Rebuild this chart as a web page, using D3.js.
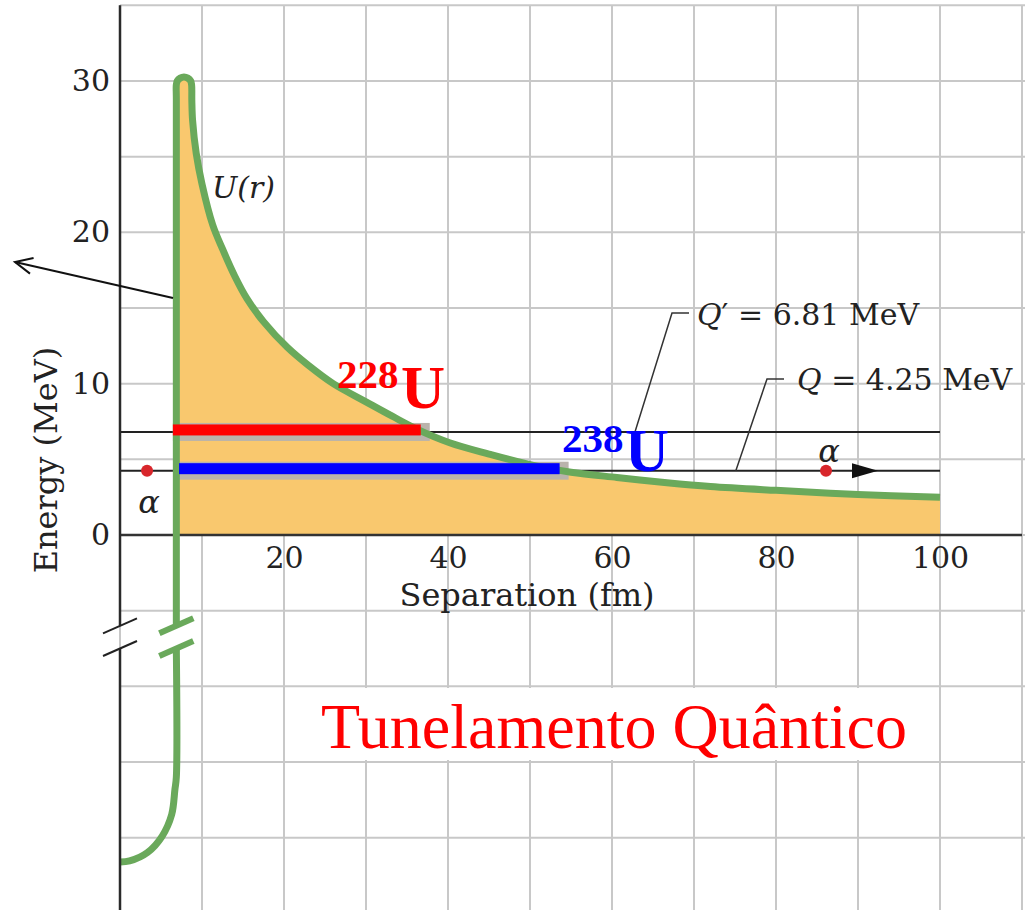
<!DOCTYPE html>
<html>
<head>
<meta charset="utf-8">
<script src="https://cdn.jsdelivr.net/npm/d3@7"></script>
<style>
  html, body { margin: 0; padding: 0; background: #ffffff; }
  svg { display: block; }
</style>
</head>
<body>
<svg id="chart" width="1025" height="910"></svg>
<script>
// ---- data -------------------------------------------------------------
// Upper branch of the potential U(r): wall, rounded peak, Coulomb tail (r in fm, U in MeV)
const curveR = [6.87, 6.87, 6.87, 6.99, 7.34, 7.80, 8.27, 8.61, 8.73, 8.76, 8.85, 9.3, 10.0, 11.3, 12.5, 14.0, 15.5, 17.5, 20.4, 23.0, 26.0, 30.0, 33.2, 36.2, 40.2, 45.0, 50.4, 55.0, 60.6, 66.7, 72.0, 80.0, 90.0, 100];
const curveU = [-6.0, 28.8, 29.76, 30.01, 30.19, 30.26, 30.19, 30.01, 29.76, 28.7, 27.4, 25.2, 23.2, 20.5, 18.9, 17.1, 15.6, 14.1, 12.4, 11.2, 10.0, 8.8, 7.85, 7.0, 6.1, 5.35, 4.6, 4.15, 3.8, 3.45, 3.2, 2.95, 2.68, 2.5];
// Lower branch (nuclear well) below the axis break
const wellR = [6.87, 6.87, 6.7, 6.3, 5.13, 3.35, 1.17, 0];
const wellU = [-7.5, -16.0, -16.8, -18.48, -19.91, -20.98, -21.54, -21.61];

// Disintegration energies and the isotopes they belong to
const qNames = ["Q′", "Q"];
const qValues = [6.81, 4.25];
const isotopeMass = ["228", "238"];
const isotopeColors = ["#ff0000", "#0000ff"];
const barStartR = [6.45, 7.2];

// Alpha particle positions on the Q line
const alphaR = [3.3, 86.1];

// Axis ticks and labels
const xTicks = [20, 40, 60, 80, 100];
const yTicks = [0, 10, 20, 30];
const xTitle = "Separation (fm)";
const yTitle = "Energy (MeV)";
const curveLabel = "U(r)";
const title = "Tunelamento Quântico";

// Axis break (MeV) between the barrier and the well
const axisBreak = [-6.0, -7.5];

// ---- scales -----------------------------------------------------------
const x = d3.scaleLinear().domain([0, 100]).range([120, 940]);
const y = d3.scaleLinear().domain([0, 30]).range([535, 81]);

const SERIF = "'DejaVu Serif', serif";
const TIMES = "'Liberation Serif', 'Times New Roman', serif";
const GREEN = "#6aa95b";
const ORANGE = "#f9c86e";
const GRID = "#c8c8c8";
const INK = "#222222";

const svg = d3.select("#chart");

// ---- grid -------------------------------------------------------------
const gridG = svg.append("g").attr("class", "grid");
const gridR = d3.range(0, 111, 10);
const gridU = d3.range(-25, 36, 5);
gridG.selectAll("line.v").data(gridR).join("line")
  .attr("class", "v")
  .attr("x1", d => x(d)).attr("x2", d => x(d))
  .attr("y1", y(35)).attr("y2", 910)
  .attr("stroke", GRID).attr("stroke-width", 2);
gridG.selectAll("line.h").data(gridU).join("line")
  .attr("class", "h")
  .attr("x1", x(0)).attr("x2", 1025)
  .attr("y1", d => y(d)).attr("y2", d => y(d))
  .attr("stroke", GRID).attr("stroke-width", 2);

// ---- Q energy lines ----------------------------------------------------
svg.append("g").selectAll("line").data(qValues).join("line")
  .attr("x1", x(0)).attr("x2", x(100))
  .attr("y1", d => y(d)).attr("y2", d => y(d))
  .attr("stroke", INK).attr("stroke-width", 2);

// ---- barrier fill ------------------------------------------------------
const upper = curveR.map((r, i) => [r, curveU[i]]);
const well = wellR.map((r, i) => [r, wellU[i]]);

svg.append("path")
  .datum(upper)
  .attr("fill", ORANGE)
  .attr("d", d3.area()
    .curve(d3.curveCatmullRom.alpha(0.5))
    .x(d => x(d[0]))
    .y0(y(0))
    .y1(d => y(Math.max(d[1], 0))));

// where a horizontal energy level meets the Coulomb tail (linear between read points)
function crossing(level) {
  for (let i = 10; i < upper.length - 1; i++) {
    const a = upper[i], b = upper[i + 1];
    if (a[1] >= level && b[1] <= level) {
      const t = (a[1] - level) / (a[1] - b[1]);
      return a[0] + t * (b[0] - a[0]);
    }
  }
  return 100;
}
const barEndR = qValues.map(crossing);

// grey shading behind the tunnelling bars
svg.append("g").selectAll("rect").data(qValues).join("rect")
  .attr("x", (d, i) => x(barStartR[i]))
  .attr("width", (d, i) => x(barEndR[i]) - x(barStartR[i]) + 6)
  .attr("y", d => y(d) - 9)
  .attr("height", 18)
  .attr("fill", "#bab3ab");

// ---- zero line ---------------------------------------------------------
svg.append("line")
  .attr("x1", x(0)).attr("x2", x(110))
  .attr("y1", y(0)).attr("y2", y(0))
  .attr("stroke", "#333").attr("stroke-width", 2.5);

// ---- U(r) curve ---------------------------------------------------------
const lineGen = d3.line()
  .curve(d3.curveCatmullRom.alpha(0.5))
  .x(d => x(d[0])).y(d => y(d[1]));

svg.append("path").datum(upper)
  .attr("fill", "none").attr("stroke", GREEN).attr("stroke-width", 7)
  .attr("stroke-linejoin", "round")
  .attr("d", lineGen);
svg.append("path").datum(well)
  .attr("fill", "none").attr("stroke", GREEN).attr("stroke-width", 7)
  .attr("stroke-linejoin", "round")
  .attr("d", lineGen);

// ---- y axis line with break --------------------------------------------
svg.append("line")
  .attr("x1", x(0)).attr("x2", x(0))
  .attr("y1", y(35)).attr("y2", y(axisBreak[0]))
  .attr("stroke", "#2a2a2a").attr("stroke-width", 2.5);
svg.append("line")
  .attr("x1", x(0)).attr("x2", x(0))
  .attr("y1", y(axisBreak[1])).attr("y2", 910)
  .attr("stroke", "#2a2a2a").attr("stroke-width", 2.5);

// break marks on the axis and on the curve
const breakMarks = (cx, color, width) => {
  svg.append("g").selectAll("line").data(axisBreak).join("line")
    .attr("x1", cx - 17).attr("x2", cx + 17)
    .attr("y1", d => y(d) + 7.5).attr("y2", d => y(d) - 7.5)
    .attr("stroke", color).attr("stroke-width", width);
};
breakMarks(x(0), "#222", 2);
breakMarks(x(curveR[0]), GREEN, 6);

// ---- tunnelling bars ----------------------------------------------------
svg.append("g").selectAll("rect").data(qValues).join("rect")
  .attr("x", (d, i) => x(barStartR[i]))
  .attr("width", (d, i) => x(barEndR[i]) - x(barStartR[i]) - 3)
  .attr("y", d => y(d) - 7.5)
  .attr("height", 11)
  .attr("fill", (d, i) => isotopeColors[i]);

// ---- alpha particles ------------------------------------------------------
const qAlpha = qValues[1];
svg.append("g").selectAll("circle").data(alphaR).join("circle")
  .attr("cx", d => x(d)).attr("cy", y(qAlpha))
  .attr("r", 6).attr("fill", "#d8262b");

// direction arrowhead on the Q line
const ax = x(alphaR[1]) + 26;
svg.append("path")
  .attr("d", `M${ax},${y(qAlpha) - 7.5} L${ax + 26},${y(qAlpha)} L${ax},${y(qAlpha) + 7.5} Z`)
  .attr("fill", "#111");

svg.append("text").text("α")
  .attr("x", x(alphaR[0]) + 2).attr("y", 513)
  .attr("text-anchor", "middle")
  .attr("font-family", SERIF).attr("font-style", "italic").attr("font-size", 32)
  .attr("fill", INK);
svg.append("text").text("α")
  .attr("x", x(alphaR[1]) + 3).attr("y", 462)
  .attr("text-anchor", "middle")
  .attr("font-family", SERIF).attr("font-style", "italic").attr("font-size", 32)
  .attr("fill", INK);

// ---- pointer arrow at the wall ------------------------------------------
{
  const tx = 15, ty = 262, sx = 173, sy = 298;
  const ang = Math.atan2(sy - ty, sx - tx);
  const L = 19, spread = 25 * Math.PI / 180;
  svg.append("line").attr("x1", sx).attr("y1", sy).attr("x2", tx).attr("y2", ty)
    .attr("stroke", "#111").attr("stroke-width", 2);
  svg.append("path")
    .attr("d", `M${tx + L * Math.cos(ang - spread)},${ty + L * Math.sin(ang - spread)} L${tx},${ty} L${tx + L * Math.cos(ang + spread)},${ty + L * Math.sin(ang + spread)}`)
    .attr("fill", "none").attr("stroke", "#111").attr("stroke-width", 2);
}

// ---- axes ----------------------------------------------------------------
const xAxis = svg.append("g")
  .attr("transform", `translate(0,${y(0)})`)
  .call(d3.axisBottom(x).tickValues(xTicks).tickSize(0).tickPadding(12));
const yAxis = svg.append("g")
  .attr("transform", `translate(${x(0)},0)`)
  .call(d3.axisLeft(y).tickValues(yTicks).tickSize(0).tickPadding(10));
[xAxis, yAxis].forEach(g => {
  g.select(".domain").remove();
  g.selectAll("text")
    .attr("font-family", SERIF).attr("font-size", 30).attr("fill", INK);
});

svg.append("text").text(xTitle)
  .attr("x", 527).attr("y", 606)
  .attr("text-anchor", "middle")
  .attr("font-family", SERIF).attr("font-size", 32).attr("fill", INK);
svg.append("text").text(yTitle)
  .attr("transform", "translate(57,460) rotate(-90)")
  .attr("text-anchor", "middle")
  .attr("font-family", SERIF).attr("font-size", 32).attr("fill", INK);

// curve label
svg.append("text").text(curveLabel)
  .attr("x", 212).attr("y", 198)
  .attr("font-family", SERIF).attr("font-style", "italic").attr("font-size", 30)
  .attr("fill", INK);

// ---- Q labels with leader lines ----------------------------------------
const qLabelPos = [{ tx: 697, ty: 325, cx: 672, cy: 313, ex: 62.8 },
                   { tx: 797, ty: 390, cx: 767, cy: 379, ex: 75.1 }];
qValues.forEach((v, i) => {
  const p = qLabelPos[i];
  svg.append("path")
    .attr("d", `M${x(p.ex)},${y(v)} L${p.cx},${p.cy} L${p.cx + 17},${p.cy}`)
    .attr("fill", "none").attr("stroke", "#333").attr("stroke-width", 1.5);
  const t = svg.append("text")
    .attr("x", p.tx).attr("y", p.ty)
    .attr("font-family", SERIF).attr("font-size", 30).attr("fill", INK);
  t.append("tspan").attr("font-style", "italic").text(qNames[i].charAt(0));
  t.append("tspan").text(qNames[i].slice(1) + " = " + v.toFixed(2) + " MeV");
});

// ---- isotope labels -------------------------------------------------------
const isoPos = [{ mx: 337, my: 388, ux: 401, uy: 408 },
                { mx: 562, my: 452, ux: 625, uy: 471 }];
isotopeMass.forEach((m, i) => {
  const p = isoPos[i];
  svg.append("text").text(m)
    .attr("x", p.mx).attr("y", p.my)
    .attr("font-family", TIMES).attr("font-weight", "bold").attr("font-size", 41)
    .attr("fill", isotopeColors[i]);
  svg.append("text").text("U")
    .attr("x", p.ux).attr("y", p.uy)
    .attr("font-family", TIMES).attr("font-weight", "bold").attr("font-size", 61)
    .attr("fill", isotopeColors[i]);
});

// ---- title box ----------------------------------------------------------
svg.append("rect")
  .attr("x", 318).attr("y", 688).attr("width", 600).attr("height", 72)
  .attr("fill", "#ffffff");
svg.append("text").text(title)
  .attr("x", 321).attr("y", 748)
  .attr("font-family", TIMES).attr("font-size", 64)
  .attr("fill", "#ff0000");
</script>
</body>
</html>
